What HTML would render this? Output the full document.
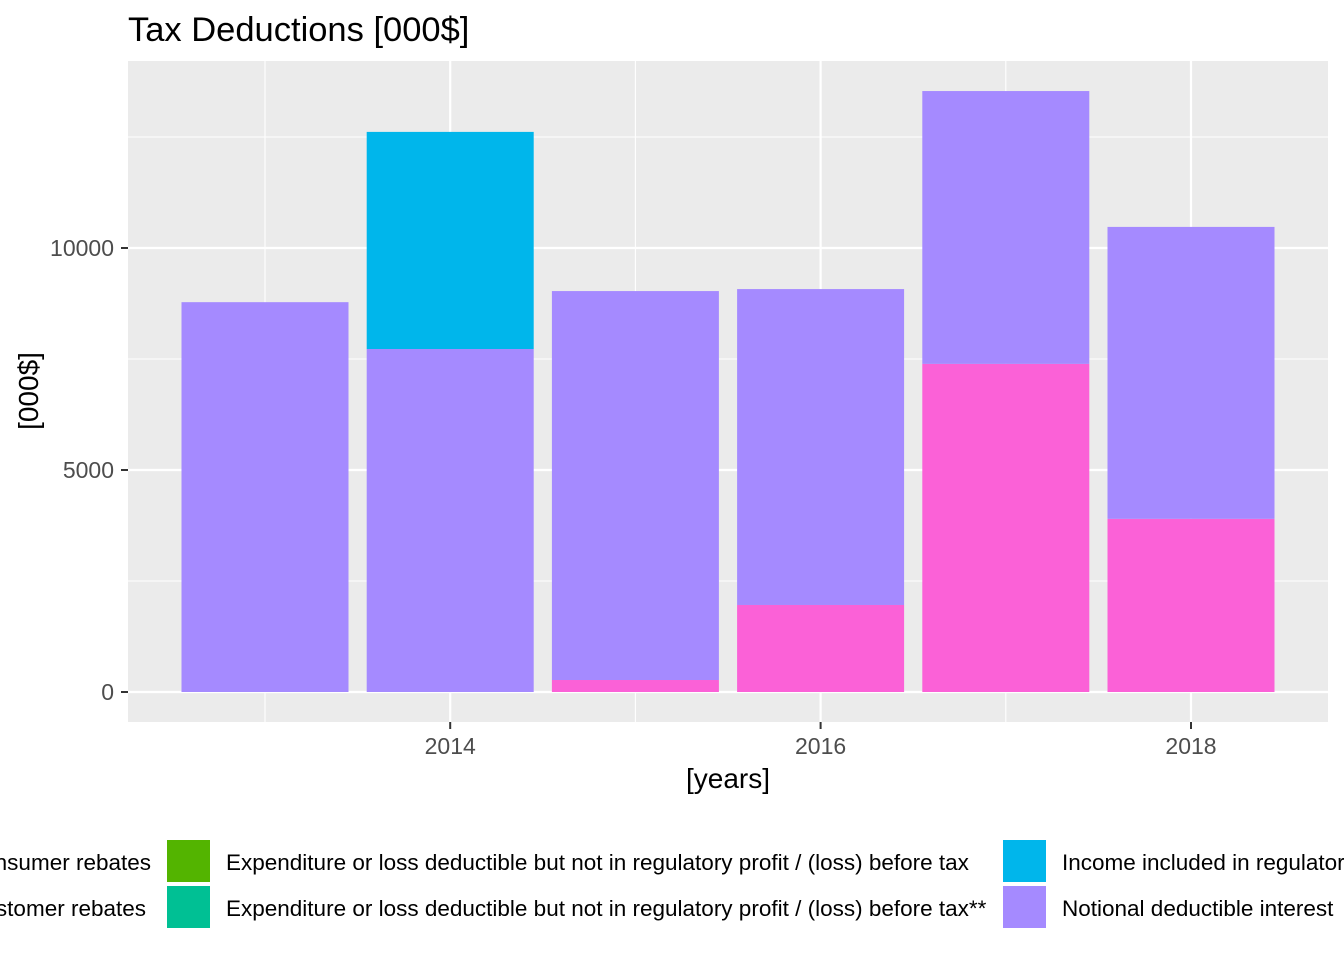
<!DOCTYPE html>
<html><head><meta charset="utf-8"><style>
html,body{margin:0;padding:0;background:#fff;width:1344px;height:960px;overflow:hidden}
svg{font-family:"Liberation Sans",Arial,sans-serif}
</style></head><body>
<svg id="chart" width="1344" height="960" viewBox="0 0 1344 960">
<text x="128" y="41" font-size="34.5" fill="#000">Tax Deductions [000$]</text>
<rect x="128" y="61" width="1200" height="661" fill="#EBEBEB"/>
<g id="grid"></g>
<g id="bars"></g>
<g id="axes"></g>
<text x="728" y="788" font-size="28" text-anchor="middle" fill="#000">[years]</text>
<text transform="translate(38,391) rotate(-90)" font-size="28" text-anchor="middle" fill="#000">[000$]</text>
<g id="legend" font-size="22.5" fill="#000">
<text x="151" y="870" text-anchor="end">Consumer rebates</text>
<text x="146" y="916" text-anchor="end">Customer rebates</text>
<rect x="167" y="840" width="43" height="42" fill="#53B400"/>
<rect x="167" y="886" width="43" height="42" fill="#00C094"/>
<text x="226" y="870">Expenditure or loss deductible but not in regulatory profit / (loss) before tax</text>
<text x="226" y="916">Expenditure or loss deductible but not in regulatory profit / (loss) before tax**</text>
<rect x="1003" y="840" width="43" height="42" fill="#00B6EB"/>
<rect x="1003" y="886" width="43" height="42" fill="#A58AFF"/>
<text x="1062" y="870">Income included in regulatory profit</text>
<text x="1062" y="916">Notional deductible interest</text>
</g>
</svg>
<script>
const years = [2013, 2014, 2015, 2016, 2017, 2018];
const pinkValues = [0, 0, 270, 1960, 7390, 3900];
const purpleValues = [8780, 7725, 8760, 7115, 6145, 6575];
const blueValues = [0, 4890, 0, 0, 0, 0];
const yTicks = [0, 5000, 10000];
const yMinor = [2500, 7500, 12500];
const xTicks = [2014, 2016, 2018];
const xMinor = [2013, 2015, 2017];

const NS = "http://www.w3.org/2000/svg";
const y = v => 692 - v * 0.0444;
const x = yr => 265 + (yr - 2013) * 185.2;
const barW = 167;
function mk(tag, attrs, parent) {
  const e = document.createElementNS(NS, tag);
  for (const k in attrs) e.setAttribute(k, attrs[k]);
  parent.appendChild(e);
  return e;
}
const grid = document.getElementById('grid');
yMinor.forEach(v => {
  const l = mk('line', {x1:128, x2:1328, y1:y(v), y2:y(v), stroke:'#fff', 'stroke-width':1.1}, grid);
  
  
});
xMinor.forEach(v => {
  const l = mk('line', {x1:x(v), x2:x(v), y1:61, y2:722, stroke:'#fff', 'stroke-width':1.1}, grid);
  
  
});
yTicks.forEach(v => {
  const l = mk('line', {x1:128, x2:1328, y1:y(v), y2:y(v), stroke:'#fff', 'stroke-width':2.2}, grid);
  
  
});
xTicks.forEach(v => {
  const l = mk('line', {x1:x(v), x2:x(v), y1:61, y2:722, stroke:'#fff', 'stroke-width':2.2}, grid);
  
  
});
const bars = document.getElementById('bars');
years.forEach((yr, i) => {
  let base = 0;
  [[pinkValues, '#FB61D7', 'pink'], [purpleValues, '#A58AFF', 'purple'], [blueValues, '#00B6EB', 'blue']].forEach(([arr, col, nm]) => {
    const v = arr[i];
    if (v > 0) {
      const r = mk('rect', {x: x(yr) - barW/2, y: y(base + v), width: barW, height: y(base) - y(base + v), fill: col}, bars);
      
      
    }
    base += v;
  });
});
const axes = document.getElementById('axes');
yTicks.forEach(v => {
  const t = mk('line', {x1:121, x2:128, y1:y(v), y2:y(v), stroke:'#333', 'stroke-width':2}, axes);
  
  
  const tx = mk('text', {x:114, y:y(v)+8, 'text-anchor':'end', 'font-size':23, fill:'#4D4D4D'}, axes);
  tx.textContent = v;
  
  
});
xTicks.forEach(v => {
  const t = mk('line', {x1:x(v), x2:x(v), y1:722, y2:729, stroke:'#333', 'stroke-width':2}, axes);
  
  
  const tx = mk('text', {x:x(v), y:754, 'text-anchor':'middle', 'font-size':23, fill:'#4D4D4D'}, axes);
  tx.textContent = v;
  
  
});
</script>
</body></html>
